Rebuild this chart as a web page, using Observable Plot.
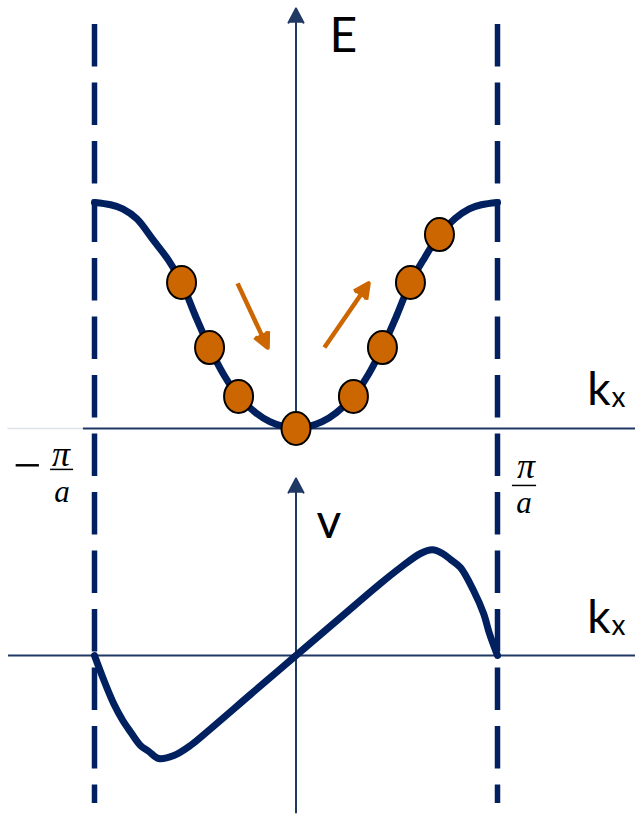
<!DOCTYPE html>
<html>
<head>
<meta charset="utf-8">
<script src="https://cdn.jsdelivr.net/npm/d3@7"></script>
<script src="https://cdn.jsdelivr.net/npm/@observablehq/plot@0.6"></script>
<style>
  body { margin: 0; background: #fff; }
  #chart { position: relative; width: 635px; height: 815px; }
  #chart svg { position: absolute; left: 0; top: 0; }
</style>
</head>
<body>
<div id="chart"></div>
<script>
// Band energy E(k) across the first Brillouin zone; k in units of π/a.
const bandK = [-1, -0.92, -0.86, -0.79, -0.707, -0.633, -0.568, -0.5, -0.429, -0.36, -0.285, -0.2, -0.13, -0.06, 0,
               0.06, 0.13, 0.2, 0.285, 0.36, 0.429, 0.5, 0.568, 0.64, 0.712, 0.79, 0.86, 0.92, 1];
const bandE = [1, 0.99, 0.972, 0.928, 0.832, 0.745, 0.646, 0.5, 0.358, 0.24, 0.142, 0.07, 0.03, 0.008, 0,
               0.008, 0.03, 0.07, 0.142, 0.24, 0.358, 0.5, 0.646, 0.758, 0.858, 0.93, 0.972, 0.99, 1];

// Electrons occupying states on the band.
const electronK = [-0.568, -0.429, -0.285, 0, 0.285, 0.429, 0.568, 0.712];
const electronE = [0.646, 0.358, 0.142, 0, 0.142, 0.358, 0.646, 0.858];

// Drift of the electrons along the band (start and end of each arrow).
const driftK1 = [-0.29, 0.141];
const driftE1 = [0.642, 0.358];
const driftK2 = [-0.141, 0.36];
const driftE2 = [0.358, 0.642];

// Group velocity v(k).
const velK = [-1, -0.955, -0.905, -0.861, -0.821, -0.772, -0.73, -0.681, -0.606, -0.524, -0.424, -0.226, 0,
              0.221, 0.419, 0.519, 0.618, 0.677, 0.727, 0.767, 0.816, 0.881, 0.931, 0.96, 1];
const velV = [0, -0.24, -0.48, -0.645, -0.765, -0.9, -0.96, -1.03, -1.0, -0.9, -0.733, -0.39, 0,
              0.38, 0.72, 0.88, 1.02, 1.057, 1.02, 0.96, 0.88, 0.65, 0.42, 0.22, 0];

// Brillouin zone boundaries ±π/a.
const zoneEdges = [-1, 1];

const band = bandK.map((k, i) => ({k, E: bandE[i]}));
const electrons = electronK.map((k, i) => ({k, E: electronE[i]}));
const drift = driftK1.map((k1, i) => ({k1, E1: driftE1[i], k2: driftK2[i], E2: driftE2[i]}));
const velocity = velK.map((k, i) => ({k, v: velV[i]}));

const NAVY = "#002060";
const AXIS = "#1F3864";
const ORANGE = "#CC6600";
const SANS = "Lato, 'Noto Sans', sans-serif";
const SERIF = "'Liberation Serif', 'DejaVu Serif', serif";

// Slightly tall ellipse used for the electrons.
const electron = {
  draw(context, size) {
    const r = Math.sqrt(size / Math.PI), rx = r * 0.935, ry = r * 1.065, c = 0.5523;
    context.moveTo(rx, 0);
    context.bezierCurveTo(rx, c * ry, c * rx, ry, 0, ry);
    context.bezierCurveTo(-c * rx, ry, -rx, c * ry, -rx, 0);
    context.bezierCurveTo(-rx, -c * ry, -c * rx, -ry, 0, -ry);
    context.bezierCurveTo(c * rx, -ry, rx, -c * ry, rx, 0);
    context.closePath();
  }
};

const xScale = {domain: [-1, 1], range: [94, 497], axis: null};
const common = {width: 635, height: 815, style: {background: "transparent", overflow: "visible"}};
const italic = {fontFamily: SERIF, fontStyle: "italic", fill: "black", textAnchor: "middle", lineAnchor: "bottom"};
const label = {fontFamily: SANS, fill: "black", textAnchor: "start", lineAnchor: "bottom"};

// Upper panel: E(k)
const energyPlot = Plot.plot({
  ...common,
  marginTop: 24, marginBottom: 12, marginLeft: 0, marginRight: 0,
  x: xScale,
  y: {domain: [0, 1], range: [428, 202], axis: null},
  marks: [
    Plot.ruleX(zoneEdges, {stroke: NAVY, strokeWidth: 5.5, strokeDasharray: "42.5 16"}),
    Plot.ruleY([0], {x1: -1.43, x2: -1.055, stroke: "#dfe3ea", strokeWidth: 1.5}),
    Plot.ruleY([0], {x1: -1.055, x2: 1.7, stroke: AXIS, strokeWidth: 2}),
    Plot.arrow([0], {x1: 0, y1: 0, x2: 0, y2: 1.858, stroke: AXIS, fill: AXIS, strokeWidth: 2,
                     headLength: 12, headAngle: 56, strokeLinejoin: "round"}),
    Plot.line(band, {x: "k", y: "E", stroke: NAVY, strokeWidth: 7, curve: "catmull-rom"}),
    Plot.dot(electrons, {x: "k", y: "E", r: 15.5, symbol: electron, fill: ORANGE, stroke: "black", strokeWidth: 2}),
    Plot.arrow(drift, {x1: "k1", y1: "E1", x2: "k2", y2: "E2", stroke: ORANGE, fill: ORANGE, strokeWidth: 4.5,
                       headLength: 5.5, headAngle: 52, strokeLinecap: "butt", strokeLinejoin: "round"}),
    // axis labels
    Plot.text(["E"], {...label, x: 0.166, y: 1.664, text: d => d, fontSize: 48}),
    Plot.text(["k"], {...label, x: 1.446, y: 0.102, text: d => d, fontSize: 46}),
    Plot.text(["x"], {...label, x: 1.566, y: 0.093, text: d => d, fontSize: 28}),
    // zone boundary labels −π/a and π/a
    Plot.text(["−"], {x: -1.405, y: -0.235, text: d => d, fontFamily: SERIF, fontSize: 50, fill: "black",
                      textAnchor: "start", lineAnchor: "bottom"}),
    Plot.text(["π"], {...italic, x: -1.166, y: -0.164, text: d => d, fontSize: 36}),
    Plot.ruleY([-0.181], {x1: -1.218, x2: -1.104, stroke: "black", strokeWidth: 1.5}),
    Plot.text(["a"], {...italic, x: -1.161, y: -0.327, text: d => d, fontSize: 31}),
    Plot.text(["π"], {...italic, x: 1.142, y: -0.221, text: d => d, fontSize: 36}),
    Plot.ruleY([-0.252], {x1: 1.074, x2: 1.194, stroke: "black", strokeWidth: 1.5}),
    Plot.text(["a"], {...italic, x: 1.131, y: -0.376, text: d => d, fontSize: 31})
  ]
});

// Lower panel: v(k)
const velocityPlot = Plot.plot({
  ...common,
  margin: 0,
  x: xScale,
  y: {domain: [0, 1], range: [655, 555], axis: null},
  marks: [
    Plot.ruleY([0], {x1: -1.427, x2: 1.7, stroke: AXIS, strokeWidth: 2}),
    Plot.arrow([0], {x1: 0, y1: -1.57, x2: 0, y2: 1.77, stroke: AXIS, fill: AXIS, strokeWidth: 2,
                     headLength: 12, headAngle: 56, strokeLinejoin: "round"}),
    Plot.line(velocity, {x: "k", y: "v", stroke: NAVY, strokeWidth: 7, curve: "catmull-rom"}),
    Plot.text(["v"], {...label, x: 0.102, y: 1.18, text: d => d, fontSize: 48}),
    Plot.text(["k"], {...label, x: 1.446, y: 0.23, text: d => d, fontSize: 46}),
    Plot.text(["x"], {...label, x: 1.566, y: 0.21, text: d => d, fontSize: 28})
  ]
});

const chart = document.getElementById("chart");
chart.append(energyPlot, velocityPlot);
</script>
</body>
</html>
